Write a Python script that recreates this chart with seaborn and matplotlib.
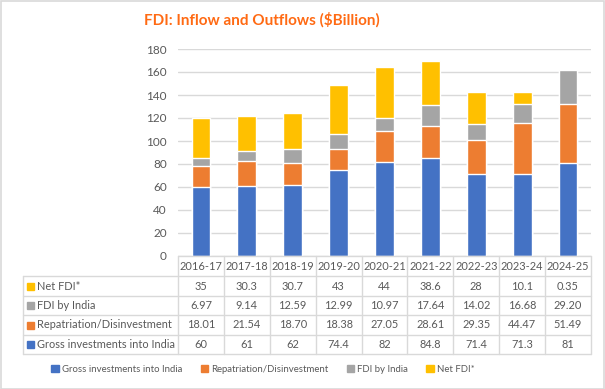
import matplotlib
matplotlib.use("Agg")
import matplotlib.pyplot as plt
import seaborn as sns
import numpy as np
import pandas as pd
from matplotlib.patches import Rectangle
from matplotlib.lines import Line2D

years = ["2016-17", "2017-18", "2018-19", "2019-20", "2020-21", "2021-22", "2022-23", "2023-24", "2024-25"]
gross_txt = ["60", "61", "62", "74.4", "82", "84.8", "71.4", "71.3", "81"]
repat_txt = ["18.01", "21.54", "18.70", "18.38", "27.05", "28.61", "29.35", "44.47", "51.49"]
fdi_india_txt = ["6.97", "9.14", "12.59", "12.99", "10.97", "17.64", "14.02", "16.68", "29.20"]
net_fdi_txt = ["35", "30.3", "30.7", "43", "44", "38.6", "28", "10.1", "0.35"]

series_names = ["Gross investments into India", "Repatriation/Disinvestment", "FDI by India", "Net FDI*"]
series_txt = [gross_txt, repat_txt, fdi_india_txt, net_fdi_txt]
colors = ["#4472C4", "#ED7D31", "#A5A5A5", "#FFC000"]

sns.set_theme(style="white")
plt.rcParams["font.family"] = ["Lato", "DejaVu Sans"]
TXT = "#595959"

W, H = 605, 389
fig = plt.figure(figsize=(W / 100, H / 100), dpi=100)

def fx(px):
    return px / W

def fy(py):
    return 1 - py / H

left_px, right_px, top_px, bot_px = 178, 591, 49, 256
ax = fig.add_axes([fx(left_px), fy(bot_px), fx(right_px - left_px), fy(top_px) - fy(bot_px)])

vals = np.array([[float(v) for v in s] for s in series_txt])
cum = np.cumsum(vals, axis=0)
df = pd.DataFrame({"year": years})
for i in range(3, -1, -1):
    df["v"] = cum[i]
    sns.barplot(data=df, x="year", y="v", color=colors[i], width=0.41, ax=ax,
                saturation=1, zorder=3)

ax.set_ylim(0, 180)
ax.set_xlim(-0.5, 8.5)
ax.set_yticks(range(0, 181, 20))
ax.yaxis.grid(True, color="#D9D9D9", linewidth=1, zorder=0)
ax.set_axisbelow(True)
ax.set_xticks([])
ax.set_xlabel("")
ax.set_ylabel("")
for s in ax.spines.values():
    s.set_visible(False)
ax.tick_params(axis="y", length=0, pad=8, labelsize=8.5, labelcolor=TXT)

# Data table
line_col = "#D9D9D9"
row_lines = [256, 276, 296, 315, 335, 354]
col_w = (right_px - left_px) / 9
tab_left = 23
def hline(y, x0, x1):
    fig.add_artist(Line2D([fx(x0), fx(x1)], [fy(y), fy(y)], color=line_col, lw=1))
def vline(x, y0, y1):
    fig.add_artist(Line2D([fx(x), fx(x)], [fy(y0), fy(y1)], color=line_col, lw=1))

hline(256, left_px, right_px)
for y in row_lines[1:]:
    hline(y, tab_left, right_px)
vline(tab_left, 276, 354)
for k in range(10):
    vline(left_px + k * col_w, 256, 354)

fs = 7.9
for k, yr in enumerate(years):
    cx = left_px + (k + 0.5) * col_w
    fig.text(fx(cx), fy(266.5), yr, ha="center", va="center", fontsize=fs, color=TXT)

# rows top->bottom: Net FDI, FDI by India, Repatriation, Gross
for r, si in enumerate([3, 2, 1, 0]):
    yc = (row_lines[r + 1] + row_lines[r + 2]) / 2
    fig.add_artist(Rectangle((fx(27), fy(yc + 3.5)), fx(7), fy(yc - 3.5) - fy(yc + 3.5),
                             color=colors[si], transform=fig.transFigure))
    fig.text(fx(37), fy(yc), series_names[si], ha="left", va="center", fontsize=fs, color=TXT)
    for k in range(9):
        cx = left_px + (k + 0.5) * col_w
        fig.text(fx(cx), fy(yc), series_txt[si][k], ha="center", va="center", fontsize=fs, color=TXT)

# Title
fig.text(fx(262), fy(20), "FDI: Inflow and Outflows ($Billion)", ha="center", va="center",
         fontsize=11, fontweight="bold", color="#FF6A13")

# Legend
handles = [Rectangle((0, 0), 1, 1, color=c) for c in colors]
fig.legend(handles, series_names, loc="center", bbox_to_anchor=(fx(263), fy(369)), ncol=4,
           frameon=False, fontsize=6.9, labelcolor=TXT, handlelength=0.8, handleheight=0.8,
           handletextpad=0.3, columnspacing=1.9)

# Border
fig.add_artist(Rectangle((0.001, 0.001), 0.997, 0.997, fill=False, edgecolor="#D9D9D9",
                         lw=1.2, transform=fig.transFigure))

fig.savefig("out.png", dpi=100)
